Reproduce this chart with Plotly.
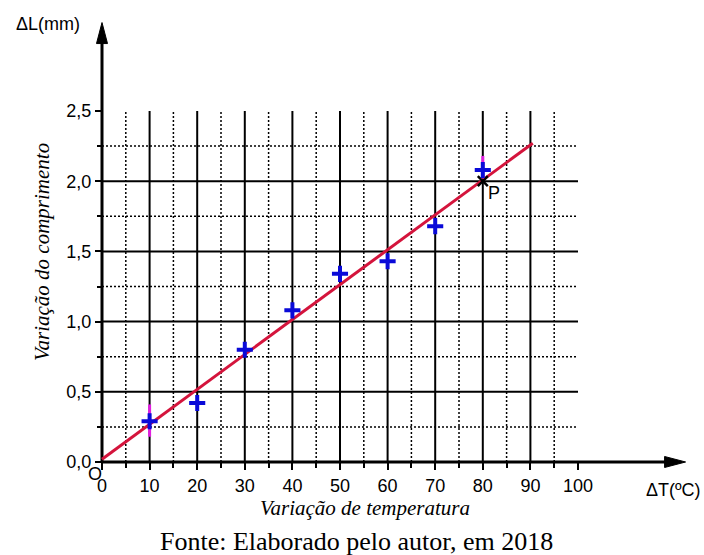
import plotly.graph_objects as go

# Measured thermal expansion: temperature change (ºC) vs length change (mm)
delta_t = [10, 20, 30, 40, 50, 60, 70, 80]
delta_l = [0.29, 0.42, 0.80, 1.08, 1.34, 1.43, 1.68, 2.08]
# vertical spread shown on two of the points
spread_up = [0.12, 0, 0, 0, 0, 0, 0, 0.10]
spread_down = [0.11, 0, 0, 0, 0, 0, 0, 0.06]

# fitted straight line (end points)
fit_t = [0, 90.5]
fit_l = [0.02, 2.27]

# reference point P on the fitted line
p_t = [80]
p_l = [2.0]

x_ticks = [0, 10, 20, 30, 40, 50, 60, 70, 80, 90, 100]
x_labels = ["0", "10", "20", "30", "40", "50", "60", "70", "80", "90", "100"]
x_minor = [5, 15, 25, 35, 45, 55, 65, 75, 85, 95]
y_ticks = [0.0, 0.5, 1.0, 1.5, 2.0, 2.5]
y_labels = ["0,0", "0,5", "1,0", "1,5", "2,0", "2,5"]
y_minor = [0.25, 0.75, 1.25, 1.75, 2.25]

# grid extent
grid_x_max = 100
grid_y_max = 2.5
x_major_grid = [10, 20, 30, 40, 50, 60, 70, 80, 90]
y_major_grid = [0.5, 1.0, 1.5, 2.0]

# axis arrow tips
x_tip = 122.6
y_tip = 3.13

W_FIG, H_FIG = 704, 555
ML, MR, MT, MB = 92, 7, 10, 55
XR = [-2.1, 125.0]
YR = [-0.2707, 3.2194]
PW = W_FIG - ML - MR
PH = H_FIG - MT - MB


def px(x):
    return (x - ML) / PW


def py(y):
    return 1 - (y - MT) / PH


SANS = "Liberation Sans, Arial, sans-serif"
SERIF = "Liberation Serif, Times New Roman, serif"
DOTS = "2px,2px"

fig = go.Figure()

fig.add_trace(go.Scatter(
    x=fit_t, y=fit_l, mode="lines",
    line=dict(color="#d4143c", width=3), hoverinfo="skip", showlegend=False,
))

fig.add_trace(go.Scatter(
    x=p_t, y=p_l, mode="markers",
    marker=dict(symbol="x-thin", size=10, line=dict(color="black", width=2.5)),
    showlegend=False,
))

fig.add_trace(go.Scatter(
    x=delta_t, y=delta_l, mode="markers",
    marker=dict(symbol="cross-thin", size=11.5, color="#0a0ad8",
                line=dict(color="#0a0ad8", width=4)),
    error_y=dict(type="data", symmetric=False, array=spread_up,
                 arrayminus=spread_down, color="#e01ee0", thickness=3, width=0),
    showlegend=False,
))

shapes = []
# dotted grid
for v in x_minor:
    shapes.append(dict(type="line", xref="x", yref="y", x0=v, x1=v, y0=0, y1=grid_y_max,
                       line=dict(color="black", width=1.5, dash=DOTS), layer="below"))
for v in y_minor:
    shapes.append(dict(type="line", xref="x", yref="y", x0=0, x1=grid_x_max, y0=v, y1=v,
                       line=dict(color="black", width=1.5, dash=DOTS), layer="below"))
# solid grid
for v in x_major_grid:
    shapes.append(dict(type="line", xref="x", yref="y", x0=v, x1=v, y0=0, y1=grid_y_max,
                       line=dict(color="black", width=2), layer="below"))
for v in y_major_grid:
    shapes.append(dict(type="line", xref="x", yref="y", x0=0, x1=grid_x_max, y0=v, y1=v,
                       line=dict(color="black", width=2), layer="below"))
# axes with arrow heads
shapes.append(dict(type="line", xref="x", yref="y", x0=0, x1=x_tip - 3, y0=0, y1=0,
                   line=dict(color="black", width=3), layer="below"))
shapes.append(dict(type="line", xref="x", yref="y", x0=0, x1=0, y0=0, y1=y_tip - 0.1,
                   line=dict(color="black", width=3), layer="below"))
shapes.append(dict(type="path", xref="x", yref="y", xsizemode="pixel", ysizemode="pixel",
                   xanchor=x_tip, yanchor=0, path="M0,0 L-21,5.5 L-21,-5.5 Z",
                   fillcolor="black", line=dict(color="black", width=1)))
shapes.append(dict(type="path", xref="x", yref="y", xsizemode="pixel", ysizemode="pixel",
                   xanchor=0, yanchor=y_tip, path="M0,0 L-5.5,-21 L5.5,-21 Z",
                   fillcolor="black", line=dict(color="black", width=1)))

annotations = [
    dict(text="ΔL(mm)", xref="paper", yref="paper", x=px(14), y=py(24),
         xanchor="left", yanchor="middle", showarrow=False,
         font=dict(family=SANS, size=18, color="black")),
    dict(text="ΔT(ºC)", xref="paper", yref="paper", x=px(673), y=py(490),
         xanchor="center", yanchor="middle", showarrow=False,
         font=dict(family=SANS, size=18, color="black")),
    dict(text="P", xref="x", yref="y", x=p_t[0], y=p_l[0], xshift=11, yshift=-12,
         xanchor="center", yanchor="middle", showarrow=False,
         font=dict(family=SANS, size=18, color="black")),
    dict(text="O", xref="paper", yref="paper", x=px(95), y=py(474),
         xanchor="center", yanchor="middle", showarrow=False,
         font=dict(family=SANS, size=18, color="black")),
    dict(text="<i>Variação do comprimento</i>", xref="paper", yref="paper",
         x=px(42), y=py(252), textangle=-90, xanchor="center", yanchor="middle",
         showarrow=False, font=dict(family=SERIF, size=21, color="black")),
    dict(text="<i>Variação de temperatura</i>", xref="paper", yref="paper",
         x=px(365), y=py(508), xanchor="center", yanchor="middle",
         showarrow=False, font=dict(family=SERIF, size=21, color="black")),
    dict(text="Fonte: Elaborado pelo autor, em 2018", xref="paper", yref="paper",
         x=px(356), y=py(541), xanchor="center", yanchor="middle",
         showarrow=False, font=dict(family=SERIF, size=26, color="black")),
]

y0_frac = (0 - YR[0]) / (YR[1] - YR[0])
x0_frac = (0 - XR[0]) / (XR[1] - XR[0])

fig.update_layout(
    width=W_FIG, height=H_FIG, autosize=False,
    margin=dict(l=ML, r=MR, t=MT, b=MB, pad=0),
    paper_bgcolor="white", plot_bgcolor="white",
    shapes=shapes, annotations=annotations,
    xaxis=dict(range=XR, anchor="free", position=y0_frac, showgrid=False,
               zeroline=False, showline=False, tickmode="array", tickvals=x_ticks,
               ticktext=x_labels, ticks="outside", ticklen=7, tickwidth=2,
               tickcolor="black", tickfont=dict(family=SANS, size=18, color="black"),
               minor=dict(tickmode="array", tickvals=x_minor, ticks="outside",
                          ticklen=5, tickwidth=1.5, tickcolor="black")),
    yaxis=dict(range=YR, anchor="free", position=x0_frac, showgrid=False,
               zeroline=False, showline=False, tickmode="array", tickvals=y_ticks,
               ticktext=y_labels, ticks="outside", ticklen=7, tickwidth=2,
               tickcolor="black", tickfont=dict(family=SANS, size=18, color="black"),
               minor=dict(tickmode="array", tickvals=y_minor, ticks="outside",
                          ticklen=5, tickwidth=1.5, tickcolor="black")),
)

fig.write_html("out.html")
